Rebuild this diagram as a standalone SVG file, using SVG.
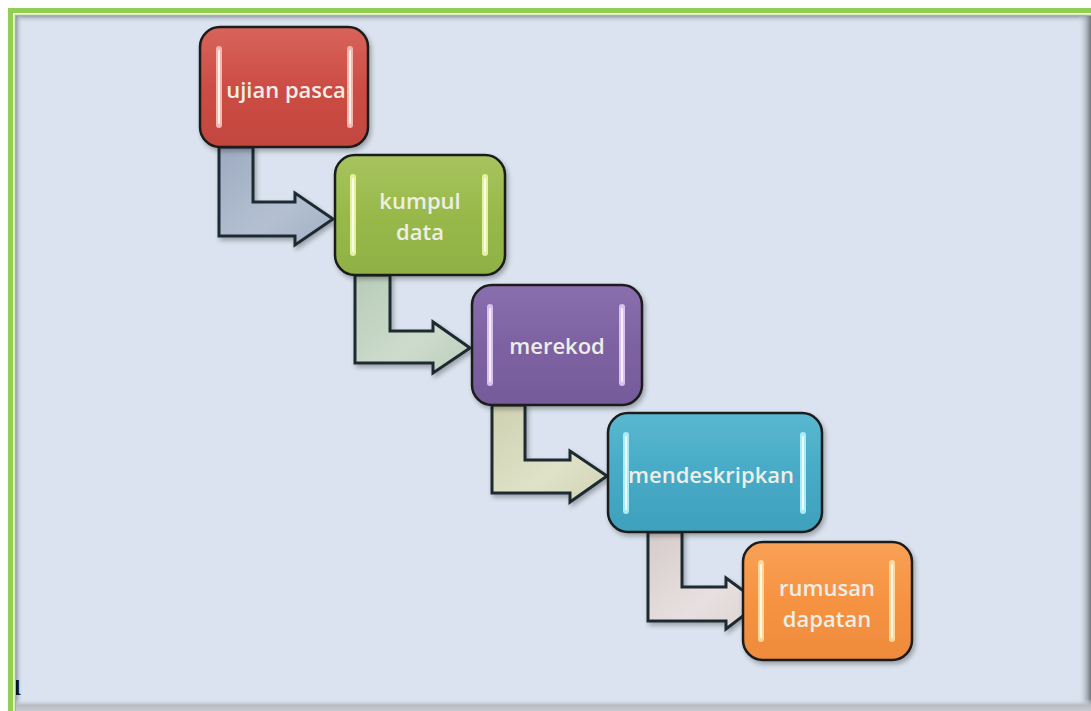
<svg xmlns="http://www.w3.org/2000/svg" width="1091" height="711" viewBox="0 0 1091 711">
<defs>
<style>
.node{stroke:#1a1a1a;stroke-width:2.5}
.arrow{stroke:#1e2a30;stroke-width:3;stroke-linejoin:miter}
.lbl{font-family:"Open Sans","Liberation Sans",sans-serif;font-size:22px;font-weight:600;fill:#eeeee6;text-anchor:middle}
.bar{stroke:none}
</style>
<linearGradient id="gRed" x1="0" y1="0" x2="0" y2="1"><stop offset="0" stop-color="#d8645b"/><stop offset="0.5" stop-color="#cc4d44"/><stop offset="1" stop-color="#c2463e"/></linearGradient>
<linearGradient id="gGreen" x1="0" y1="0" x2="0" y2="1"><stop offset="0" stop-color="#a7c45e"/><stop offset="0.5" stop-color="#98b94a"/><stop offset="1" stop-color="#8fb044"/></linearGradient>
<linearGradient id="gPurple" x1="0" y1="0" x2="0" y2="1"><stop offset="0" stop-color="#8a6fae"/><stop offset="0.5" stop-color="#7d62a2"/><stop offset="1" stop-color="#765b9a"/></linearGradient>
<linearGradient id="gTeal" x1="0" y1="0" x2="0" y2="1"><stop offset="0" stop-color="#5ab8d0"/><stop offset="0.5" stop-color="#47aac6"/><stop offset="1" stop-color="#3fa1bc"/></linearGradient>
<linearGradient id="gOrange" x1="0" y1="0" x2="0" y2="1"><stop offset="0" stop-color="#f9a156"/><stop offset="0.5" stop-color="#f69342"/><stop offset="1" stop-color="#ee8b3c"/></linearGradient>
<linearGradient id="a1" x1="0" y1="0" x2="1" y2="1"><stop offset="0" stop-color="#9eaac0"/><stop offset="0.6" stop-color="#b4c0d2"/><stop offset="1" stop-color="#a2afc4"/></linearGradient>
<linearGradient id="a2" x1="0" y1="0" x2="1" y2="1"><stop offset="0" stop-color="#b8ccb8"/><stop offset="0.6" stop-color="#cddbcc"/><stop offset="1" stop-color="#bccfbc"/></linearGradient>
<linearGradient id="a3" x1="0" y1="0" x2="1" y2="1"><stop offset="0" stop-color="#cdd0b0"/><stop offset="0.6" stop-color="#e0e2c8"/><stop offset="1" stop-color="#d0d3b4"/></linearGradient>
<linearGradient id="a4" x1="0" y1="0" x2="1" y2="1"><stop offset="0" stop-color="#d6cbcb"/><stop offset="0.6" stop-color="#e8e0e0"/><stop offset="1" stop-color="#dcd2d2"/></linearGradient>
<linearGradient id="shTop" x1="0" y1="0" x2="0" y2="1"><stop offset="0" stop-color="#8a929c" stop-opacity="0.8"/><stop offset="1" stop-color="#dae3ef" stop-opacity="0"/></linearGradient>
<linearGradient id="shLeft" x1="0" y1="0" x2="1" y2="0"><stop offset="0" stop-color="#8a929c" stop-opacity="0.8"/><stop offset="1" stop-color="#dae3ef" stop-opacity="0"/></linearGradient>
<linearGradient id="shRight" x1="0" y1="0" x2="1" y2="0"><stop offset="0" stop-color="#dae3ef" stop-opacity="0"/><stop offset="1" stop-color="#6e747c"/></linearGradient>
<linearGradient id="shBottom" x1="0" y1="0" x2="0" y2="1"><stop offset="0" stop-color="#dae3ef" stop-opacity="0"/><stop offset="0.5" stop-color="#b8bcc2"/><stop offset="1" stop-color="#c8ccd0"/></linearGradient>
<filter id="soft" x="-10%" y="-10%" width="130%" height="130%"><feGaussianBlur in="SourceAlpha" stdDeviation="2.5"/><feOffset dx="2" dy="3"/><feComponentTransfer><feFuncA type="linear" slope="0.3"/></feComponentTransfer><feMerge><feMergeNode/><feMergeNode in="SourceGraphic"/></feMerge></filter>
</defs>

<rect x="0" y="0" width="1091" height="711" fill="#ffffff"/>
<rect x="16" y="16" width="1075" height="695" fill="#dae3ef"/>
<rect x="16" y="16" width="1075" height="7" fill="url(#shTop)"/>
<rect x="16" y="16" width="7" height="695" fill="url(#shLeft)"/>
<rect x="1078" y="16" width="13" height="695" fill="url(#shRight)"/>
<rect x="16" y="699" width="1075" height="12" fill="url(#shBottom)"/>
<text x="12" y="695" font-family="Liberation Serif, serif" font-size="32" font-weight="bold" fill="#111">ı</text>

<g id="frame">
<rect x="8" y="8" width="1083" height="8" fill="#92cf50"/>
<rect x="8" y="8" width="8" height="703" fill="#92cf50"/>
<rect x="13" y="13" width="1078" height="1.6" fill="#ffffff"/>
<rect x="13" y="13" width="1.6" height="698" fill="#ffffff"/>
</g>

<g id="connectors">
<path class="arrow" fill="url(#a1)" filter="url(#soft)" d="M219,147 V236 H295 V245 L333,219 L295,193 V202 H253 V147 Z"/>
<path class="arrow" fill="url(#a2)" filter="url(#soft)" d="M355,275 V363 H433 V373 L470,348 L433,322 V331 H390 V275 Z"/>
<path class="arrow" fill="url(#a3)" filter="url(#soft)" d="M492,405 V493 H570 V502 L607,476 L570,451 V460 H525 V405 Z"/>
<path class="arrow" fill="url(#a4)" filter="url(#soft)" d="M648,532 V621 H726 V629 L760,603 L726,578 V587 H682 V532 Z"/>
</g>

<g id="node-ujian-pasca">
<rect class="node" x="200" y="27" width="168" height="120" rx="20" fill="url(#gRed)" filter="url(#soft)"/>
<rect class="bar" x="216" y="46" width="6" height="82" rx="3" fill="#f6b8ac"/>
<rect class="bar" x="218" y="50" width="2" height="74" rx="1" fill="#fff3f0"/>
<rect class="bar" x="347" y="46" width="6" height="82" rx="3" fill="#f6b8ac"/>
<rect class="bar" x="349" y="50" width="2" height="74" rx="1" fill="#fff3f0"/>
<text class="lbl" x="286" y="98">ujian pasca</text>
</g>

<g id="node-kumpul-data">
<rect class="node" x="335" y="155" width="170" height="120" rx="20" fill="url(#gGreen)" filter="url(#soft)"/>
<rect class="bar" x="350" y="174" width="6" height="82" rx="3" fill="#e2f2a0"/>
<rect class="bar" x="352" y="178" width="2" height="74" rx="1" fill="#fbffe8"/>
<rect class="bar" x="482" y="174" width="6" height="82" rx="3" fill="#e2f2a0"/>
<rect class="bar" x="484" y="178" width="2" height="74" rx="1" fill="#fbffe8"/>
<text class="lbl" x="420" y="209">kumpul</text>
<text class="lbl" x="420" y="240">data</text>
</g>

<g id="node-merekod">
<rect class="node" x="472" y="285" width="170" height="120" rx="20" fill="url(#gPurple)" filter="url(#soft)"/>
<rect class="bar" x="487" y="304" width="6" height="82" rx="3" fill="#d9c2f2"/>
<rect class="bar" x="489" y="308" width="2" height="74" rx="1" fill="#f8f0ff"/>
<rect class="bar" x="619" y="304" width="6" height="82" rx="3" fill="#d9c2f2"/>
<rect class="bar" x="621" y="308" width="2" height="74" rx="1" fill="#f8f0ff"/>
<text class="lbl" x="557" y="354">merekod</text>
</g>

<g id="node-mendeskripkan">
<rect class="node" x="608" y="413" width="214" height="119" rx="20" fill="url(#gTeal)" filter="url(#soft)"/>
<rect class="bar" x="623" y="432" width="6" height="82" rx="3" fill="#a8ecf8"/>
<rect class="bar" x="625" y="436" width="2" height="74" rx="1" fill="#effdff"/>
<rect class="bar" x="800" y="432" width="6" height="82" rx="3" fill="#a8ecf8"/>
<rect class="bar" x="802" y="436" width="2" height="74" rx="1" fill="#effdff"/>
<text class="lbl" x="711" y="483">mendeskripkan</text>
</g>

<g id="node-rumusan-dapatan">
<rect class="node" x="743" y="542" width="169" height="118" rx="20" fill="url(#gOrange)" filter="url(#soft)"/>
<rect class="bar" x="758" y="560" width="6" height="82" rx="3" fill="#ffd79a"/>
<rect class="bar" x="760" y="564" width="2" height="74" rx="1" fill="#fff6e4"/>
<rect class="bar" x="889" y="560" width="6" height="82" rx="3" fill="#ffd79a"/>
<rect class="bar" x="891" y="564" width="2" height="74" rx="1" fill="#fff6e4"/>
<text class="lbl" x="827" y="596">rumusan</text>
<text class="lbl" x="827" y="627">dapatan</text>
</g>
</svg>
